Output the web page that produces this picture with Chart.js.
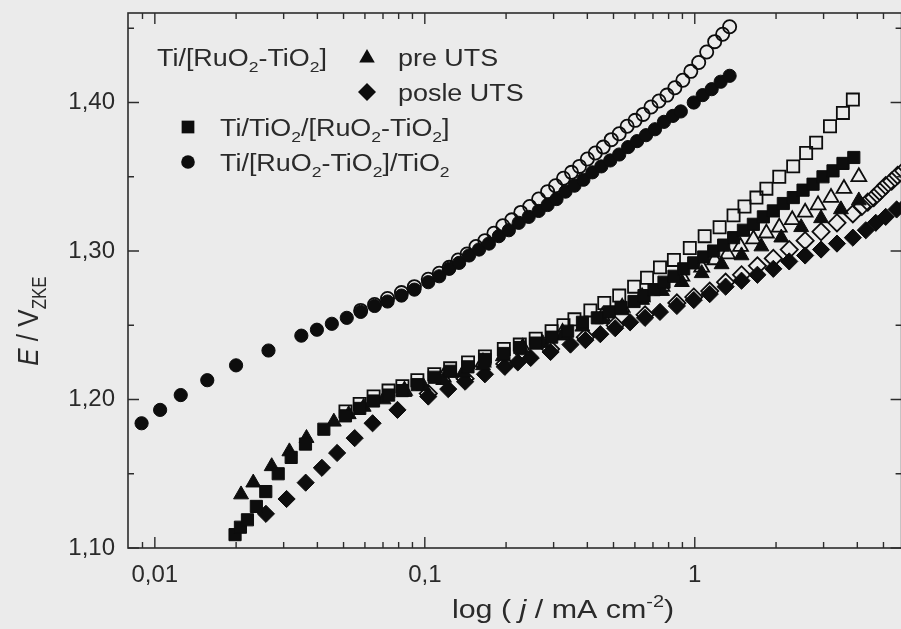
<!DOCTYPE html>
<html>
<head>
<meta charset="utf-8">
<script src="https://cdn.jsdelivr.net/npm/chart.js@4.4.1/dist/chart.umd.min.js"></script>
<style>
  html, body { margin: 0; padding: 0; overflow: hidden; background: #ececec; width: 901px; height: 629px; }
  canvas { display: block; }
</style>
</head>
<body>
<canvas id="c" width="912" height="629" style="width:912px;height:629px"></canvas>
<script>
// ---------------- data (j in mA cm^-2, E in V vs ZKE) ----------------
// filled circles
const fcJ = [0.00893, 0.01046, 0.01247, 0.01564, 0.01999, 0.02636, 0.03488, 0.03984, 0.04525, 0.05139, 0.05787, 0.06516, 0.07276, 0.08193, 0.09148, 0.1030, 0.1131, 0.1231, 0.1340, 0.1458, 0.1588, 0.1728, 0.1881, 0.2048, 0.2228, 0.2426, 0.2641, 0.2850, 0.3076, 0.3320, 0.3584, 0.3868, 0.4175, 0.4506, 0.4863, 0.5249, 0.5665, 0.6114, 0.6600, 0.7123, 0.7687, 0.8298, 0.8878, 0.9914, 1.070, 1.155, 1.247, 1.346];
const fcE = [1.184, 1.193, 1.203, 1.213, 1.223, 1.233, 1.243, 1.247, 1.251, 1.255, 1.259, 1.263, 1.266, 1.270, 1.274, 1.279, 1.283, 1.288, 1.292, 1.297, 1.301, 1.305, 1.310, 1.314, 1.319, 1.323, 1.327, 1.331, 1.335, 1.340, 1.344, 1.348, 1.353, 1.357, 1.361, 1.365, 1.370, 1.374, 1.378, 1.382, 1.387, 1.391, 1.394, 1.400, 1.405, 1.409, 1.414, 1.418];
// open circles
const ocJ = [0.05787, 0.06516, 0.07276, 0.08193, 0.09148, 0.1030, 0.1131, 0.1231, 0.1329, 0.1434, 0.1548, 0.1670, 0.1803, 0.1946, 0.2100, 0.2267, 0.2447, 0.2641, 0.2850, 0.3050, 0.3264, 0.3494, 0.3739, 0.4001, 0.4282, 0.4582, 0.4905, 0.5249, 0.5617, 0.6012, 0.6434, 0.6885, 0.7369, 0.7887, 0.8439, 0.9032, 0.9667, 1.034, 1.107, 1.185, 1.268, 1.346];
const ocE = [1.260, 1.264, 1.268, 1.272, 1.276, 1.281, 1.285, 1.289, 1.294, 1.298, 1.303, 1.307, 1.312, 1.317, 1.321, 1.326, 1.330, 1.335, 1.340, 1.344, 1.349, 1.353, 1.357, 1.362, 1.366, 1.370, 1.375, 1.379, 1.384, 1.388, 1.392, 1.397, 1.401, 1.405, 1.410, 1.415, 1.421, 1.427, 1.434, 1.441, 1.446, 1.451];
// filled squares
const fsJ = [0.01982, 0.02075, 0.02203, 0.02377, 0.02576, 0.02864, 0.03199, 0.03614, 0.04227, 0.05082, 0.05741, 0.06457, 0.07345, 0.08260, 0.09376, 0.1084, 0.1242, 0.1445, 0.1671, 0.1963, 0.2249, 0.2576, 0.2951, 0.3381, 0.3837, 0.4355, 0.4820, 0.5333, 0.5957, 0.6486, 0.7063, 0.7691, 0.8375, 0.9099, 0.9908, 1.079, 1.175, 1.279, 1.393, 1.514, 1.648, 1.795, 1.954, 2.128, 2.317, 2.518, 2.742, 2.985, 3.251, 3.540, 3.882];
const fsE = [1.109, 1.114, 1.119, 1.128, 1.138, 1.150, 1.161, 1.170, 1.180, 1.189, 1.194, 1.199, 1.203, 1.206, 1.210, 1.215, 1.219, 1.222, 1.227, 1.231, 1.235, 1.238, 1.242, 1.246, 1.252, 1.255, 1.259, 1.262, 1.266, 1.270, 1.274, 1.279, 1.283, 1.288, 1.292, 1.296, 1.300, 1.304, 1.309, 1.314, 1.318, 1.323, 1.327, 1.332, 1.336, 1.341, 1.345, 1.350, 1.354, 1.359, 1.363];
// open squares
const osJ = [0.05083, 0.05737, 0.06461, 0.07338, 0.08262, 0.09384, 0.1084, 0.1241, 0.1446, 0.1670, 0.1962, 0.2248, 0.2575, 0.2949, 0.3264, 0.3583, 0.4105, 0.4622, 0.5249, 0.5961, 0.6656, 0.7432, 0.8370, 0.9585, 1.088, 1.236, 1.392, 1.528, 1.692, 1.842, 2.056, 2.315, 2.585, 2.815, 3.169, 3.538, 3.851];
const osE = [1.192, 1.197, 1.202, 1.206, 1.209, 1.213, 1.217, 1.221, 1.225, 1.229, 1.234, 1.237, 1.241, 1.246, 1.250, 1.254, 1.260, 1.265, 1.270, 1.276, 1.282, 1.289, 1.294, 1.302, 1.310, 1.316, 1.324, 1.330, 1.336, 1.342, 1.350, 1.357, 1.366, 1.373, 1.384, 1.393, 1.402];
// filled triangles
const ftJ = [0.02086, 0.02315, 0.02709, 0.03150, 0.03645, 0.04603, 0.05226, 0.05936, 0.07032, 0.08404, 0.09874, 0.1170, 0.1386, 0.1642, 0.1946, 0.2306, 0.2732, 0.3237, 0.3835, 0.4545, 0.5384, 0.6380, 0.7560, 0.8956, 1.061, 1.257, 1.490, 1.765, 2.091, 2.478, 2.936, 3.479, 4.052];
const ftE = [1.136, 1.144, 1.155, 1.165, 1.174, 1.185, 1.190, 1.195, 1.200, 1.205, 1.209, 1.213, 1.218, 1.223, 1.229, 1.233, 1.238, 1.243, 1.249, 1.254, 1.260, 1.267, 1.273, 1.279, 1.285, 1.291, 1.297, 1.303, 1.309, 1.316, 1.322, 1.328, 1.334];
// open triangles
const otJ = [0.08404, 0.1170, 0.1642, 0.2306, 0.3237, 0.4545, 0.5384, 0.6380, 0.7560, 0.8956, 1.061, 1.185, 1.323, 1.477, 1.649, 1.842, 2.056, 2.296, 2.563, 2.862, 3.196, 3.569, 4.052];
const otE = [1.206, 1.215, 1.225, 1.235, 1.245, 1.256, 1.262, 1.269, 1.276, 1.283, 1.289, 1.294, 1.298, 1.303, 1.308, 1.312, 1.316, 1.321, 1.326, 1.331, 1.336, 1.342, 1.350];
// filled diamonds
const fdJ = [0.02579, 0.03076, 0.03620, 0.04157, 0.04733, 0.05499, 0.06406, 0.07920, 0.1030, 0.1221, 0.1410, 0.1670, 0.1979, 0.2210, 0.2468, 0.2923, 0.3464, 0.3934, 0.4468, 0.5073, 0.5762, 0.6543, 0.7432, 0.8584, 0.9915, 1.136, 1.301, 1.490, 1.706, 1.954, 2.238, 2.563, 2.936, 3.363, 3.851, 4.300, 4.681, 5.096, 5.594, 6.141];
const fdE = [1.123, 1.133, 1.144, 1.154, 1.164, 1.174, 1.184, 1.193, 1.202, 1.207, 1.212, 1.217, 1.222, 1.225, 1.228, 1.232, 1.237, 1.240, 1.244, 1.248, 1.252, 1.255, 1.259, 1.263, 1.267, 1.271, 1.276, 1.280, 1.284, 1.288, 1.293, 1.297, 1.301, 1.305, 1.309, 1.314, 1.319, 1.323, 1.328, 1.332];
// open diamonds
const odJ = [0.1030, 0.1410, 0.1979, 0.2923, 0.3934, 0.5073, 0.6543, 0.8584, 0.9915, 1.136, 1.301, 1.490, 1.706, 1.954, 2.238, 2.563, 2.936, 3.363, 3.851, 4.157, 4.374, 4.603, 4.843, 5.096, 5.361, 5.642, 5.936];
const odE = [1.204, 1.214, 1.224, 1.234, 1.242, 1.250, 1.257, 1.265, 1.269, 1.273, 1.279, 1.284, 1.290, 1.295, 1.301, 1.307, 1.313, 1.319, 1.325, 1.330, 1.333, 1.336, 1.340, 1.344, 1.347, 1.351, 1.354];

// ---------------- axes / ticks / text ----------------
const xMajorTicks = [0.01, 0.1, 1];
const xTickLabels = ['0,01', '0,1', '1'];
const xMinorTicks = [0.009, 0.02, 0.03, 0.04, 0.05, 0.06, 0.07, 0.08, 0.09, 0.2, 0.3, 0.4, 0.5, 0.6, 0.7, 0.8, 0.9, 2, 3, 4, 5];
const yMajorTicks = [1.10, 1.20, 1.30, 1.40];
const yTickLabels = ['1,10', '1,20', '1,30', '1,40'];
const yMinorTicks = [1.15, 1.25, 1.35, 1.45];
const X_MIN = 0.0079534, X_MAX = 5.8359;
const Y_MIN = 1.10, Y_MAX = 1.4603;

const xTitle = 'log ( *j* / mA cm^{-2})';
const yTitle = '*E* / V_{ZKE}';
const legendHeader = 'Ti/[RuO_2-TiO_2]';
const legendPre = 'pre UTS';
const legendPosle = 'posle UTS';
const legendSquare = 'Ti/TiO_2/[RuO_2-TiO_2]';
const legendCircle = 'Ti/[RuO_2-TiO_2]/TiO_2';

// ---------------- styling ----------------
const FONT = '"Liberation Sans", Arial, Helvetica, sans-serif';
const INK = '#0d0d0d';
const TEXT = '#2a2a2a';
const AXIS = '#2c2c2c';
const BG = '#ebebeb';
const SX = 1.17; // horizontal stretch of the scanned lettering

function series(label, xs, ys, style, filled, r) {
  return {
    label,
    data: xs.map((v, i) => ({ x: v, y: ys[i] })),
    showLine: false,
    pointStyle: style,
    pointRadius: r,
    pointHoverRadius: r,
    pointBackgroundColor: filled ? INK : 'rgba(0,0,0,0)',
    pointBorderColor: INK,
    pointBorderWidth: filled ? 1 : 1.8
  };
}

function parseRich(s) {
  const out = []; let i = 0, italic = false, buf = '';
  const flush = () => { if (buf) { out.push({ t: buf, mode: 'n', italic }); buf = ''; } };
  while (i < s.length) {
    const c = s[i];
    if (c === '*') { flush(); italic = !italic; i++; continue; }
    if (c === '_' || c === '^') {
      flush();
      const mode = c === '_' ? 'sub' : 'sup';
      let t;
      if (s[i + 1] === '{') { const k = s.indexOf('}', i + 2); t = s.slice(i + 2, k); i = k + 1; }
      else { t = s[i + 1]; i += 2; }
      out.push({ t, mode, italic });
      continue;
    }
    buf += c; i++;
  }
  flush();
  return out;
}
function fontFor(p, size) {
  const fs = p.mode === 'n' ? size : Math.round(size * 0.64);
  return (p.italic ? 'italic ' : '') + fs + 'px ' + FONT;
}
function richWidth(ctx, parts, size) {
  let w = 0;
  for (const p of parts) { ctx.font = fontFor(p, size); w += ctx.measureText(p.t).width; }
  return w;
}
function drawRich(ctx, parts, x, y, size) {
  let cx = x;
  ctx.textAlign = 'left';
  ctx.textBaseline = 'alphabetic';
  for (const p of parts) {
    const dy = p.mode === 'sub' ? size * 0.27 : p.mode === 'sup' ? -size * 0.42 : 0;
    ctx.font = fontFor(p, size);
    ctx.fillText(p.t, cx, y + dy);
    cx += ctx.measureText(p.t).width;
  }
}
function drawStretched(ctx, str, x, y, size) {
  ctx.save();
  ctx.translate(x, y);
  ctx.scale(SX, 1);
  drawRich(ctx, parseRich(str), 0, 0, size);
  ctx.restore();
}
function marker(ctx, shape, x, y, r) {
  ctx.beginPath();
  if (shape === 'circle') ctx.arc(x, y, r, 0, Math.PI * 2);
  else if (shape === 'rect') { const h = r * Math.SQRT1_2; ctx.rect(x - h, y - h, 2 * h, 2 * h); }
  else if (shape === 'rectRot') { ctx.moveTo(x - r, y); ctx.lineTo(x, y - r); ctx.lineTo(x + r, y); ctx.lineTo(x, y + r); ctx.closePath(); }
  else if (shape === 'triangle') {
    ctx.moveTo(x, y - r);
    ctx.lineTo(x + r * Math.sin(2 * Math.PI / 3), y - r * Math.cos(2 * Math.PI / 3));
    ctx.lineTo(x + r * Math.sin(4 * Math.PI / 3), y - r * Math.cos(4 * Math.PI / 3));
    ctx.closePath();
  }
  ctx.fillStyle = INK;
  ctx.fill();
}

function near(v, list) { return list.findIndex(m => Math.abs(v - m) < 1e-6 * Math.max(1, Math.abs(m))); }

const decor = {
  id: 'decor',
  beforeDraw(chart) {
    const ctx = chart.ctx;
    ctx.save();
    ctx.fillStyle = BG;
    ctx.fillRect(0, 0, chart.width, chart.height);
    ctx.restore();
  },
  afterDatasetsDraw(chart) {
    const { ctx, chartArea: a } = chart;
    const xs = chart.scales.x, ys = chart.scales.y;
    ctx.save();
    // frame
    ctx.strokeStyle = AXIS;
    ctx.lineWidth = 1.6;
    ctx.strokeRect(a.left, a.top, a.right - a.left, a.bottom - a.top);
    // ticks (inward, mirrored)
    ctx.lineWidth = 1.4;
    ctx.beginPath();
    const xt = (v, len) => { const p = xs.getPixelForValue(v); ctx.moveTo(p, a.bottom); ctx.lineTo(p, a.bottom - len); ctx.moveTo(p, a.top); ctx.lineTo(p, a.top + len); };
    const yt = (v, len) => { const p = ys.getPixelForValue(v); ctx.moveTo(a.left, p); ctx.lineTo(a.left + len, p); ctx.moveTo(a.right, p); ctx.lineTo(a.right - len, p); };
    xMajorTicks.forEach(v => xt(v, 11));
    xMinorTicks.forEach(v => xt(v, 6));
    yMajorTicks.forEach(v => yt(v, 11));
    yMinorTicks.forEach(v => yt(v, 6));
    ctx.stroke();

    ctx.fillStyle = TEXT;
    // x title
    const xParts = parseRich(xTitle);
    const xw = richWidth(ctx, xParts, 26) * SX;
    drawStretched(ctx, xTitle, 563 - xw / 2, 618, 26);
    // y title (rotated)
    const yParts = parseRich(yTitle);
    const yw = richWidth(ctx, yParts, 26);
    ctx.save();
    ctx.translate(38, 321 + yw / 2);
    ctx.rotate(-Math.PI / 2);
    ctx.scale(1, SX);
    drawRich(ctx, yParts, 0, 0, 26);
    ctx.restore();

    // legend
    ctx.fillStyle = TEXT;
    drawStretched(ctx, legendHeader, 157, 66, 23);
    drawStretched(ctx, legendPre, 398, 66, 23);
    drawStretched(ctx, legendPosle, 398, 101, 23);
    drawStretched(ctx, legendSquare, 220, 136, 23);
    drawStretched(ctx, legendCircle, 220, 171, 23);
    marker(ctx, 'triangle', 367, 58, 9);
    marker(ctx, 'rectRot', 367, 92, 9);
    marker(ctx, 'rect', 188, 127, 9);
    marker(ctx, 'circle', 188, 162, 6.8);
    ctx.restore();
  }
};

new Chart(document.getElementById('c'), {
  type: 'scatter',
  data: {
    datasets: [
      series('circles filled', fcJ, fcE, 'circle', true, 6.6),
      series('circles open', ocJ, ocE, 'circle', false, 6.6),
      series('squares filled', fsJ, fsE, 'rect', true, 8.6),
      series('squares open', osJ, osE, 'rect', false, 8.6),
      series('triangles filled', ftJ, ftE, 'triangle', true, 8.6),
      series('triangles open', otJ, otE, 'triangle', false, 8.6),
      series('diamonds filled', fdJ, fdE, 'rectRot', true, 8.6),
      series('diamonds open', odJ, odE, 'rectRot', false, 8.6)
    ]
  },
  options: {
    responsive: false,
    animation: false,
    events: [],
    layout: { padding: { top: 13, right: 6, left: 0, bottom: 0 } },
    plugins: { legend: { display: false }, tooltip: { enabled: false } },
    scales: {
      x: {
        type: 'logarithmic', min: X_MIN, max: X_MAX, position: 'bottom',
        grid: { display: false, drawTicks: false }, border: { display: false },
        ticks: {
          autoSkip: false, maxRotation: 0, minRotation: 0, padding: 13, color: TEXT,
          font: { family: FONT, size: 24 },
          callback: (v) => { const i = near(v, xMajorTicks); return i >= 0 ? xTickLabels[i] : ''; }
        },
        afterFit: (s) => { s.height = 81; s.paddingLeft = 0; s.paddingRight = 0; }
      },
      y: {
        type: 'linear', min: Y_MIN, max: Y_MAX, position: 'left',
        grid: { display: false, drawTicks: false }, border: { display: false },
        ticks: {
          stepSize: 0.1, includeBounds: false, padding: 13, color: TEXT,
          font: { family: FONT, size: 24 },
          callback: (v) => { const i = near(v, yMajorTicks); return i >= 0 ? yTickLabels[i] : ''; }
        },
        afterFit: (s) => { s.width = 128; s.paddingTop = 0; s.paddingBottom = 0; }
      }
    }
  },
  plugins: [decor]
});
</script>
</body>
</html>
